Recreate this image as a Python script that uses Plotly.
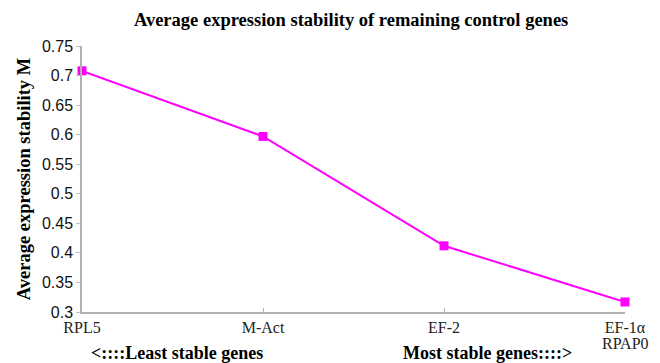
import plotly.graph_objects as go

genes = ["RPL5", "M-Act", "EF-2", "EF-1α / RPAP0"]
gene_labels = ["RPL5", "M-Act", "EF-2", "EF-1α"]
shared_rank_gene = "RPAP0"
stability_m = [0.708, 0.597, 0.412, 0.317]
y_ticks = [0.3, 0.35, 0.4, 0.45, 0.5, 0.55, 0.6, 0.65, 0.7, 0.75]
y_tick_text = ["0.3", "0.35", "0.4", "0.45", "0.5", "0.55", "0.6", "0.65", "0.7", "0.75"]

serif = "Liberation Serif, Times New Roman, serif"
sans = "Liberation Sans, Arial, sans-serif"

fig = go.Figure()
fig.add_trace(go.Scatter(
    x=genes, y=stability_m, mode="lines+markers",
    line=dict(color="#FF00FF", width=2),
    marker=dict(symbol="square", size=9, color="#FF00FF"),
    cliponaxis=False, showlegend=False,
))

fig.update_layout(
    width=660, height=363,
    margin=dict(l=82, r=35, t=46, b=51, autoexpand=False),
    paper_bgcolor="white", plot_bgcolor="white",
    title=dict(text="<b>Average expression stability of remaining control genes</b>",
               x=0.532, xanchor="center", y=0.945, yanchor="middle",
               font=dict(family=serif, size=18.5, color="black")),
    xaxis=dict(type="category", range=[0, 3], showgrid=False, zeroline=False,
               automargin=False, tickvals=genes, ticktext=gene_labels,
               showline=True, linecolor="#b0b0b0", linewidth=1.5,
               ticks="inside", ticklen=4, tickcolor="#b0b0b0",
               tickfont=dict(family=serif, size=16, color="#222")),
    yaxis=dict(range=[0.3, 0.75], tickvals=y_ticks, ticktext=y_tick_text,
               showgrid=False, zeroline=False, automargin=False,
               showline=True, linecolor="#b0b0b0", linewidth=1.5,
               ticks="outside", ticklen=4, tickcolor="#c0c0c0",
               tickfont=dict(family=sans, size=16, color="#111"),
               title=dict(text="<b>Average expression stability M</b>", standoff=6,
                          font=dict(family=serif, size=18.5, color="black"))),
)

fig.add_annotation(text=shared_rank_gene, xref="x", yref="paper",
                   x=genes[-1], y=-(343 - 312) / 266, xanchor="center", yanchor="middle",
                   showarrow=False, font=dict(family=serif, size=16, color="#222"))
fig.add_annotation(text="<b><::::Least stable genes</b>", xref="paper", yref="paper",
                   x=(177 - 82) / 543, y=-(353 - 312) / 266, xanchor="center", yanchor="middle",
                   showarrow=False, font=dict(family=serif, size=18, color="black"))
fig.add_annotation(text="<b>Most stable genes::::></b>", xref="paper", yref="paper",
                   x=(487 - 82) / 543, y=-(353 - 312) / 266, xanchor="center", yanchor="middle",
                   showarrow=False, font=dict(family=serif, size=18, color="black"))

fig.write_html("out.html")
